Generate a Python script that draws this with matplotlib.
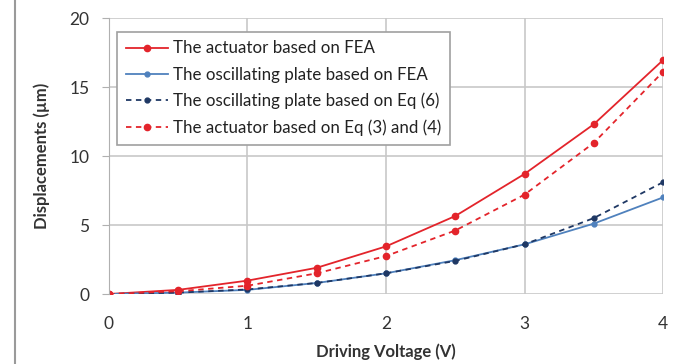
import matplotlib
matplotlib.use("Agg")
import matplotlib.pyplot as plt
from matplotlib.lines import Line2D

plt.rcParams['font.family'] = ['Lato', 'DejaVu Sans']

voltage = [0, 0.5, 1, 1.5, 2, 2.5, 3, 3.5, 4]
actuator_fea = [0, 0.3, 0.97, 1.9, 3.45, 5.65, 8.7, 12.3, 16.95]
plate_fea = [0, 0.1, 0.3, 0.8, 1.5, 2.45, 3.6, 5.1, 7.0]
plate_eq6 = [0, 0.1, 0.33, 0.8, 1.5, 2.4, 3.6, 5.5, 8.1]
actuator_eq34 = [0, 0.2, 0.6, 1.5, 2.75, 4.6, 7.2, 10.95, 16.1]

labels = ["The actuator based on FEA",
          "The oscillating plate based on FEA",
          "The oscillating plate based on Eq (6)",
          "The actuator based on Eq (3) and (4)"]
xticks = [0, 1, 2, 3, 4]
yticks = [0, 5, 10, 15, 20]

red = "#e3242b"
blue = "#4f81bd"
navy = "#1f3864"

fig = plt.figure(figsize=(6.81, 3.64), dpi=100)
ax = fig.add_axes([0.160, 0.1923, 0.8136, 0.7582])

ax.plot(voltage, actuator_fea, color=red, lw=1.3, marker='o', ms=4.5, label=labels[0])
ax.plot(voltage, plate_fea, color=blue, lw=1.3, marker='o', ms=3.5, label=labels[1])
ax.plot(voltage, plate_eq6, color=navy, lw=1.3, ls=(0, (3, 2.5)), marker='o', ms=3.5, label=labels[2])
ax.plot(voltage, actuator_eq34, color=red, lw=1.3, ls=(0, (3, 2.5)), marker='o', ms=4.5, label=labels[3])

ax.set_xlim(0, 4)
ax.set_ylim(0, 20)
ax.set_xticks(xticks)
ax.set_yticks(yticks)
ax.grid(True, color="#c8c8c8", lw=1.2)
ax.set_axisbelow(True)
for s in ['top', 'right', 'bottom']:
    ax.spines[s].set_visible(False)
ax.spines['left'].set_color("#b0b0b0")
ax.tick_params(axis='y', length=5, color="#b0b0b0", labelsize=12.5, labelcolor="#333333", pad=9)
ax.tick_params(axis='x', length=0, labelsize=12.5, labelcolor="#333333", pad=16)

ax.set_xlabel("Driving Voltage (V)", fontsize=12, fontweight='bold', color="#333333", labelpad=8)
ax.set_ylabel("Displacements (µm)", fontsize=12, fontweight='bold', color="#333333", labelpad=14)

leg = ax.legend(loc='upper left', bbox_to_anchor=(0.0, 0.98), fontsize=12.2,
                frameon=True, fancybox=False, edgecolor="#a0a0a0", framealpha=1,
                handlelength=2.5, handletextpad=0.3, labelspacing=0.6, borderpad=0.5)
leg.get_frame().set_linewidth(1.2)
for t in leg.get_texts():
    t.set_color("#222222")

fig.add_artist(Line2D([15/681, 15/681], [0, 1], transform=fig.transFigure, color="#9a9a9a", lw=1.5))

fig.savefig("out.png", dpi=100)
